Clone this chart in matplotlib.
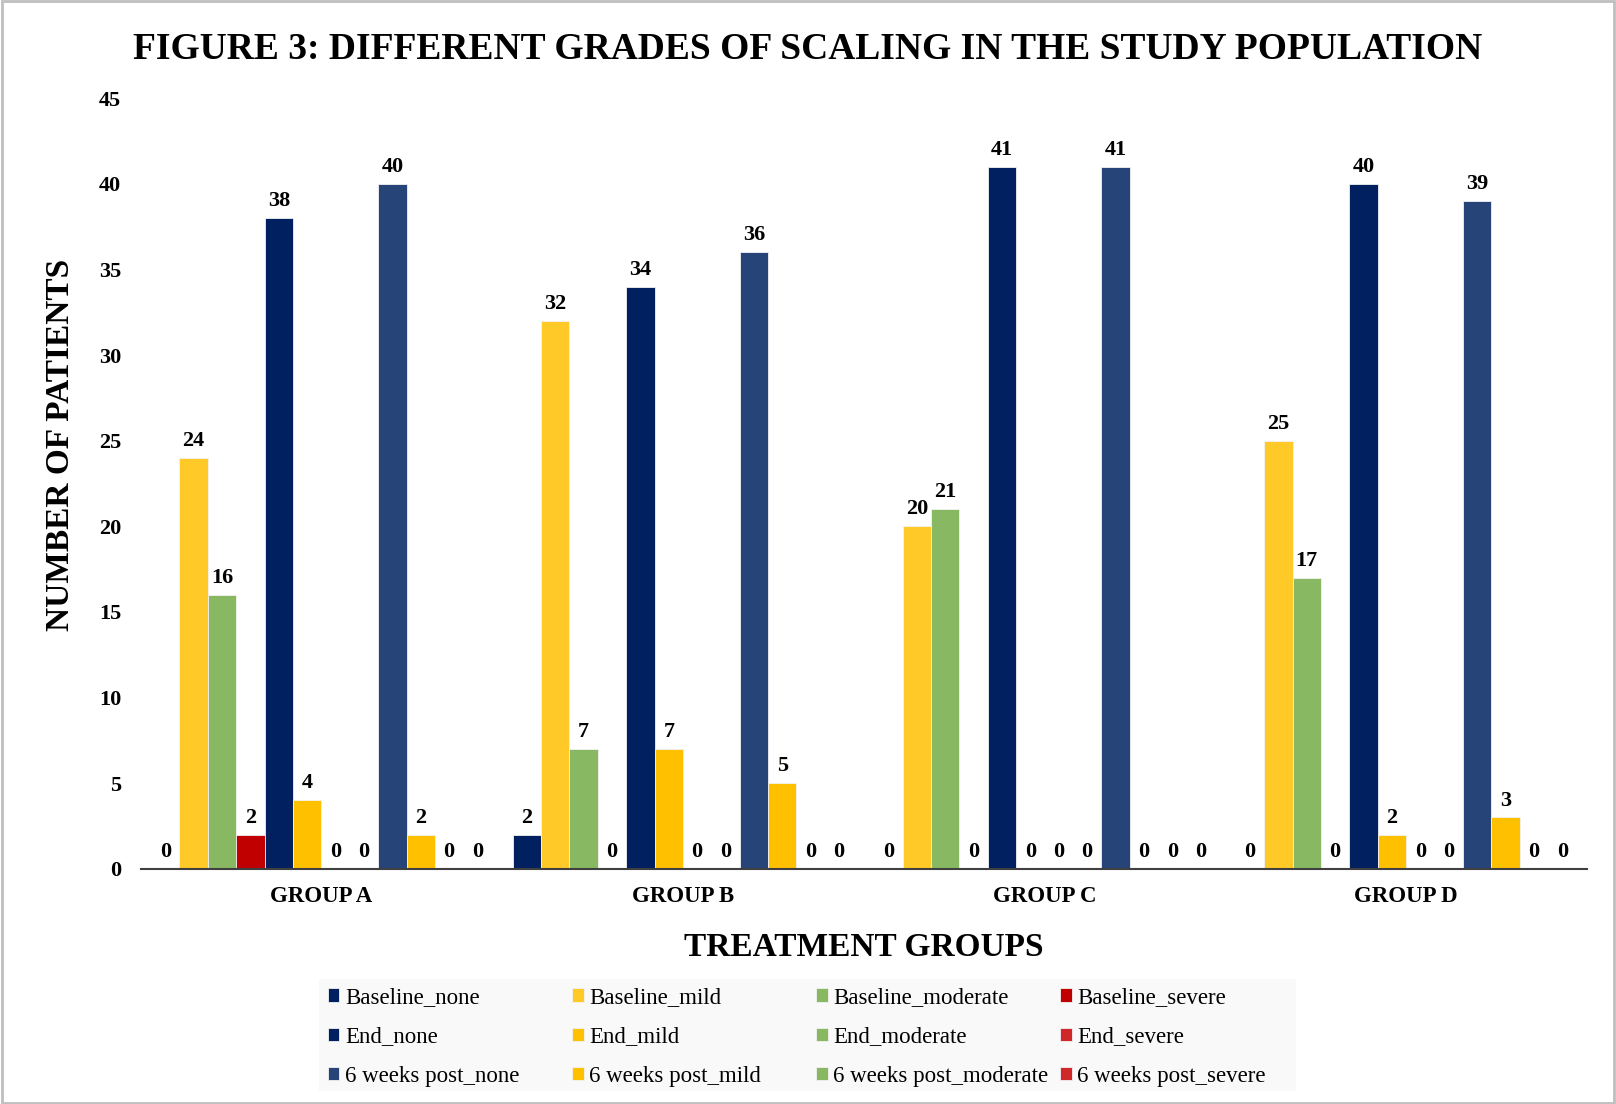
import numpy as np
import matplotlib
matplotlib.use("Agg")
import matplotlib.pyplot as plt
from matplotlib.patches import Rectangle

groups = ["GROUP A", "GROUP B", "GROUP C", "GROUP D"]
series_names = [
    "Baseline_none", "Baseline_mild", "Baseline_moderate", "Baseline_severe",
    "End_none", "End_mild", "End_moderate", "End_severe",
    "6 weeks post_none", "6 weeks post_mild", "6 weeks post_moderate", "6 weeks post_severe",
]
# values per series, one per group (A, B, C, D)
baseline_none = [0, 2, 0, 0]
baseline_mild = [24, 32, 20, 25]
baseline_moderate = [16, 7, 21, 17]
baseline_severe = [2, 0, 0, 0]
end_none = [38, 34, 41, 40]
end_mild = [4, 7, 0, 2]
end_moderate = [0, 0, 0, 0]
end_severe = [0, 0, 0, 0]
post_none = [40, 36, 41, 39]
post_mild = [2, 5, 0, 3]
post_moderate = [0, 0, 0, 0]
post_severe = [0, 0, 0, 0]

values = [baseline_none, baseline_mild, baseline_moderate, baseline_severe,
          end_none, end_mild, end_moderate, end_severe,
          post_none, post_mild, post_moderate, post_severe]
colors = ["#002060", "#FFCA28", "#88B862", "#C00000",
          "#002060", "#FFC000", "#88B862", "#D02828",
          "#264478", "#FFC000", "#88B862", "#D02828"]

plt.rcParams['font.family'] = ['Liberation Serif', 'DejaVu Serif']

fig = plt.figure(figsize=(16.16, 11.04), dpi=100)
ax = fig.add_axes([0.087, 0.213, 0.895, 0.698])

x = np.arange(len(groups))
w = 0.0785
n = len(values)
handles = []
for i, (vals, c, name) in enumerate(zip(values, colors, series_names)):
    offs = (i - (n - 1) / 2) * w
    bars = ax.bar(x + offs, vals, width=w, color=c, edgecolor="#f2f2f2", linewidth=0.6, label=name)
    ax.bar_label(bars, labels=[str(v) for v in vals], padding=5, fontsize=16, fontweight="bold")
    handles.append(bars)

ax.set_xlim(-0.5, 3.5)
ax.set_ylim(0, 45)
ax.set_yticks(np.arange(0, 46, 5))
ax.set_xticks(x)
ax.set_xticklabels(groups, fontsize=16.5, fontweight="bold")
for t in ax.get_yticklabels():
    t.set_fontsize(16)
    t.set_fontweight("bold")
ax.tick_params(axis="x", length=0, pad=12)
ax.tick_params(axis="y", length=0, pad=14)
for s in ["top", "right", "left"]:
    ax.spines[s].set_visible(False)
ax.spines["bottom"].set_color("#404040")
ax.spines["bottom"].set_linewidth(1.5)

ax.set_xlabel("TREATMENT GROUPS", fontsize=24, fontweight="bold", labelpad=18)
ax.set_ylabel("NUMBER OF PATIENTS", fontsize=24, fontweight="bold")
ax.yaxis.set_label_coords(-0.045, 0.55)
fig.text(0.5, 0.955, "FIGURE 3: DIFFERENT GRADES OF SCALING IN THE STUDY POPULATION",
         fontsize=27, fontweight="bold", ha="center", va="center")

# legend: grey box with four equal-width columns (one per grade)
fig.patches.append(Rectangle((0.1977, 0.012), 0.604, 0.101, transform=fig.transFigure,
                             facecolor="#f9f9f9", edgecolor="none", zorder=0))
col_x = [0.2028, 0.354, 0.505, 0.656]
for k in range(4):
    idx = [k, k + 4, k + 8]
    leg = fig.legend([handles[i] for i in idx], [series_names[i] for i in idx],
                     ncol=1, loc="center left", bbox_to_anchor=(col_x[k], 0.0607),
                     fontsize=16.5, frameon=False, handlelength=0.5, handleheight=0.5,
                     handletextpad=0.25, labelspacing=0.8, borderpad=0, borderaxespad=0)

fig.patches.append(Rectangle((0.001, 0.001), 0.998, 0.998, transform=fig.transFigure,
                             fill=False, edgecolor="#bfbfbf", linewidth=2))

fig.savefig("out.png", dpi=100)
